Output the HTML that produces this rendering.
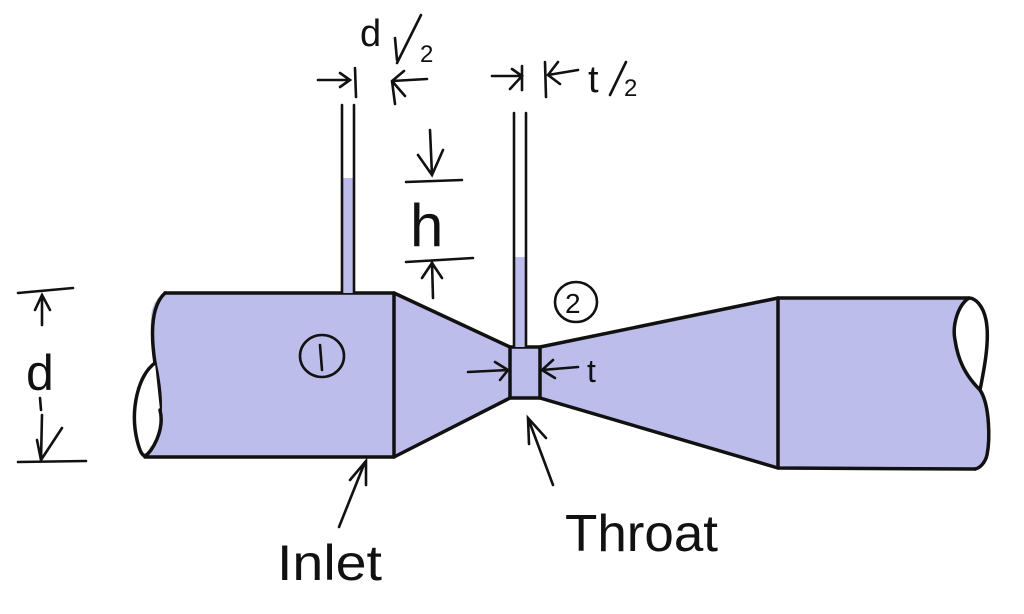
<!DOCTYPE html>
<html><head><meta charset="utf-8"><style>
html,body{margin:0;padding:0;background:#fff;}
svg{display:block}
text{font-family:"Liberation Sans",sans-serif;fill:#111}
</style></head><body>
<svg width="1024" height="614" viewBox="0 0 1024 614" xmlns="http://www.w3.org/2000/svg">
<g stroke="#111" stroke-width="3.5" stroke-linecap="round" stroke-linejoin="round">
<path d="M165,293 L394,293 L510,347 L540,347 L778,298 L969,298 C985,310 990,330 988,345 C986,365 984,380 980,390 C990,400 990,430 988,450 C986,462 980,468 975,469 L778,468 L540,398 L510,398 L394,457 L145,457 C160,440 160,420 155,400 C152,385 150,370 155,363 C150,345 150,320 152,310 C155,300 160,295 165,293 Z" fill="#bdbdec" stroke="none"/>
<path d="M165,293 L394,293 L394,457 L145,457" fill="none"/>
<path d="M165,293 C152,305 150,330 155,363 C162,395 165,430 145,455" fill="none"/>
<path d="M155,363 C138,375 130,410 137,440 C140,452 142,455 145,456 C152,452 165,430 160,410" fill="#fff"/>
<path d="M394,293 L510,347 M394,457 L510,398" fill="none"/>
<rect x="510" y="347" width="30" height="51" fill="none"/>
<path d="M540,347 L778,298 M540,398 L778,468" fill="none"/>
<path d="M778,298 L969,298 M778,298 L778,468 M778,468 L975,469" fill="none"/>
<path d="M969,298 C958,305 952,325 955,340 C958,360 965,375 980,390 C984,370 990,340 986,320 C983,305 975,298 969,298 Z" fill="#fff"/>
<path d="M980,390 C990,405 990,440 987,455 C985,463 980,468 975,469" fill="none"/>
</g>
<rect x="342" y="178" width="12" height="115" fill="#bdbdec"/>
<rect x="514" y="257" width="12" height="90" fill="#bdbdec"/>
<g stroke="#111" stroke-width="2.6" stroke-linecap="round" fill="none">
<path d="M342,105 L342,293 M354,105 L354,293"/>
<path d="M514,113 L514,347 M526,113 L526,347"/>
<path d="M318,80 L350,80 M340,73 L350,80 L340,87 M355,68 L356,97"/>
<path d="M427,79 L392,81 M404,71 L392,81 L395,104 M392,81 L405,96"/>
<path d="M492,76 L522,76 M512,69 L522,76 L510,89 M522,66 L522,90"/>
<path d="M545,62 L546,97 M578,70 L548,75 M558,62 L548,75 L560,84"/>
<!-- slashes -->
<path d="M421,15 L397,63 M626,62 L610,95"/>
<path d="M406,182 L462,180 M406,262 L473,258"/>
<path d="M430,130 L432,175 M418,155 L432,175 L443,150"/>
<path d="M432,262 L433,298 M422,278 L432,263 L442,278"/>
<path d="M18,293 L73,288 M42,295 L42,325 M35,310 L42,295 L50,310"/>
<path d="M18,462 L86,461 M42,415 L41,460 M37,440 L41,460 L62,428"/>
<path d="M468,372 L508,370 M495,362 L508,370 M500,380 L508,370"/>
<path d="M578,367 L542,370 M553,360 L542,370 L555,378"/>
<path d="M339,527 L365,462 M350,480 L366,461 L366,485"/>
<path d="M553,485 L528,418 M529,444 L528,418 L546,438"/>
<ellipse cx="322" cy="356" rx="22" ry="21"/>
<ellipse cx="576" cy="302" rx="21" ry="20"/>
<!-- 1 and 2 in circles, subscripts as strokes -->
<path d="M320,345 L322,370"/>
<path d="M395,38 L397,60"/>
<path d="M40,398 L41,410"/>
</g>
<text x="360" y="46" font-size="38">d</text>
<text x="420" y="62" font-size="24">2</text>
<text x="588" y="92" font-size="38">t</text>
<text x="624" y="96" font-size="24">2</text>
<text x="410" y="246" font-size="60">h</text>
<text x="26" y="390" font-size="50">d</text>
<text x="565" y="313" font-size="28">2</text>
<text x="587" y="382" font-size="32">t</text>
<text x="277" y="580" font-size="50" textLength="105" lengthAdjust="spacingAndGlyphs">Inlet</text>
<text x="565" y="551" font-size="52" textLength="153" lengthAdjust="spacingAndGlyphs">Throat</text>
</svg>
</body></html>
